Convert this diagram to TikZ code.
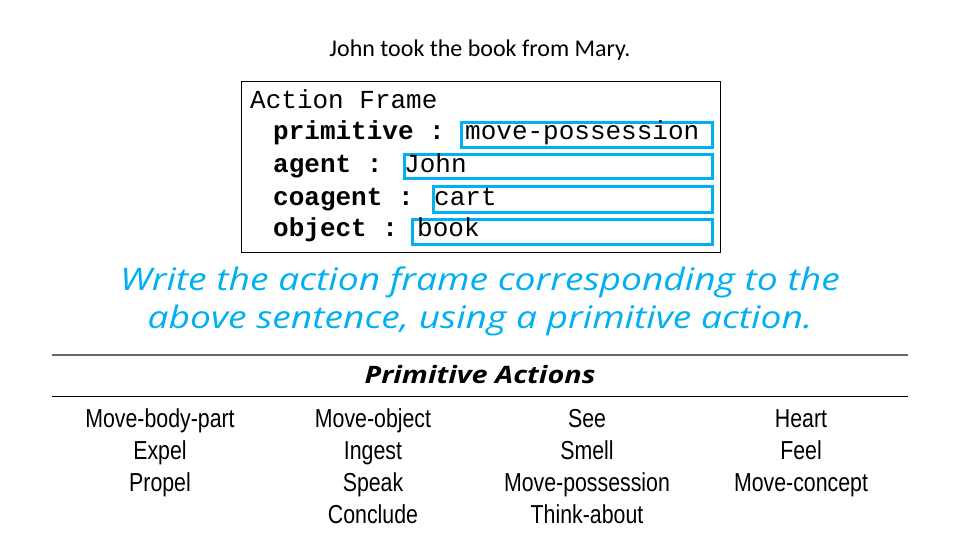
\documentclass[tikz,border=0pt]{standalone}
\usepackage{fontspec}
\newfontfamily\calib{Carlito}
\newfontfamily\cour{Liberation Mono}
\newfontfamily\hand[FakeStretch=1.2]{Open Sans}
\newfontfamily\narrow[FakeStretch=0.82]{Liberation Sans}
\definecolor{hblue}{HTML}{00B0F0}
\begin{document}
\begin{tikzpicture}[x=1pt,y=-1pt,
  lbl/.style={inner sep=0pt, anchor=base west, font=\cour\fontsize{26}{30}\selectfont},
  blbl/.style={lbl, font=\cour\bfseries\fontsize{26}{30}\selectfont},
  valbox/.style={draw=hblue, line width=3pt, anchor=north west, inner sep=0pt},
  act/.style={inner sep=0pt, anchor=base, font=\narrow\fontsize{26}{30}\selectfont},
  qtext/.style={inner sep=0pt, anchor=base, text=hblue, font=\hand\itshape\fontsize{31}{34}\selectfont},
  rulegray/.style={draw=black!60, line width=1.3pt},
  ruleblack/.style={draw=black, line width=1pt}]
\useasboundingbox (0,0) rectangle (960,540);
\node[inner sep=0pt, anchor=base, font=\calib\fontsize{24}{28}\selectfont] (title) at (480,57) {John took the book from Mary.};
\node[draw=black, line width=1pt, anchor=north west, inner sep=0pt, minimum width=479pt, minimum height=171pt] (frame) at (241,81) {};
\node[lbl] (hdr) at (250,109) {Action Frame};
\node[blbl] (lprim) at (273,140) {primitive :};
\node[blbl] (lagent) at (273,173) {agent :};
\node[blbl] (lcoag) at (273,205) {coagent :};
\node[blbl] (lobj) at (273,236) {object :};
\node[valbox, minimum width=251pt, minimum height=25pt] (bprim) at (460,121) {};
\node[valbox, minimum width=308pt, minimum height=24pt] (bagent) at (403,153) {};
\node[valbox, minimum width=279pt, minimum height=26pt] (bcoag) at (432,185) {};
\node[valbox, minimum width=300pt, minimum height=25pt] (bobj) at (411,218) {};
\node[lbl] (vprim) at (465,140) {move-possession};
\node[lbl] (vagent) at (404,173) {John};
\node[lbl] (vcoag) at (434,205) {cart};
\node[lbl] (vobj) at (417,236) {book};
\node[qtext] (q1) at (480,290) {Write the action frame corresponding to the};
\node[qtext] (q2) at (480,328) {above sentence, using a primitive action.};
\draw[rulegray] (52,355) -- (908,355);
\node[inner sep=0pt, anchor=base, font=\hand\bfseries\itshape\fontsize{24}{28}\selectfont] (pa) at (480,383) {Primitive Actions};
\draw[ruleblack] (52,396) -- (908,396);
\node[act] (a11) at (160,427) {Move-body-part};
\node[act] (a12) at (160,459) {Expel};
\node[act] (a13) at (160,491) {Propel};
\node[act] (a21) at (373,427) {Move-object};
\node[act] (a22) at (373,459) {Ingest};
\node[act] (a23) at (373,491) {Speak};
\node[act] (a24) at (373,523) {Conclude};
\node[act] (a31) at (587,427) {See};
\node[act] (a32) at (587,459) {Smell};
\node[act] (a33) at (587,491) {Move-possession};
\node[act] (a34) at (587,523) {Think-about};
\node[act] (a41) at (801,427) {Heart};
\node[act] (a42) at (801,459) {Feel};
\node[act] (a43) at (801,491) {Move-concept};
\end{tikzpicture}
\end{document}
